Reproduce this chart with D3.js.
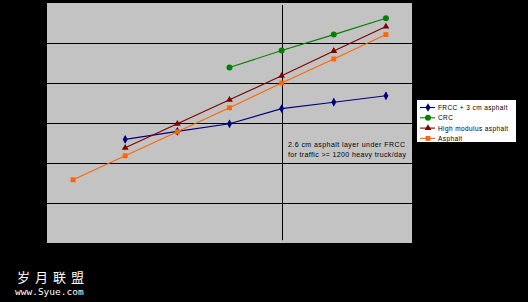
<!DOCTYPE html>
<html><head><meta charset="utf-8">
<script src="https://cdn.jsdelivr.net/npm/d3@7"></script>
<style>
html,body{margin:0;padding:0;background:#000;}
svg{display:block;}
</style></head>
<body>
<script>
const categories = ["1","2","3","4","5","6","7"];
const seriesNames = ["FRCC + 3 cm asphalt","CRC","High modulus asphalt","Asphalt"];
const frcc = [null, 2.59, 2.79, 2.98, 3.36, 3.52, 3.68];
const crc = [null, null, null, 4.39, 4.81, 5.21, 5.62];
const highMod = [null, 2.38, 2.98, 3.58, 4.18, 4.80, 5.41];
const asphalt = [1.58, 2.18, 2.78, 3.38, 4.00, 4.60, 5.21];
const yTicks = [0,1,2,3,4,5,6];
const noteLines = ["2.6 cm  asphalt layer under FRCC","for traffic >= 1200 heavy truck/day"];
const colors = ["#000080","#008000","#800000","#ff6600"];
const shapes = ["diamond","circle","triangle","square"];

const W=528,H=302;
const svg=d3.select("body").append("svg").attr("width",W).attr("height",H);
svg.append("rect").attr("width",W).attr("height",H).attr("fill","#000");

const L=47,R=412,T=3,B=243;
const x=d3.scaleBand().domain(categories).range([L,R]);
const y=d3.scaleLinear().domain([0,6]).range([B,T]);
const cx=c=>x(c)+x.bandwidth()/2;

svg.append("rect").attr("x",L).attr("y",T).attr("width",R-L).attr("height",B-T).attr("fill","#c3c3c3");

// gridlines
svg.append("g").selectAll("line").data(yTicks.slice(1,6)).join("line")
  .attr("x1",L).attr("x2",R).attr("y1",d=>Math.round(y(d))+0.5).attr("y2",d=>Math.round(y(d))+0.5)
  .attr("stroke","#000").attr("stroke-width",1);

// vertical reference line at category 5
svg.append("line").attr("x1",Math.round(cx("5"))+0.5).attr("x2",Math.round(cx("5"))+0.5)
  .attr("y1",y(5.95)).attr("y2",y(0.07)).attr("stroke","#000").attr("stroke-width",1);

const all=[frcc,crc,highMod,asphalt];
const sym={diamond:d3.symbolDiamond,circle:d3.symbolCircle,triangle:d3.symbolTriangle,square:d3.symbolSquare};
const sizes={diamond:22,circle:28,triangle:20,square:24};

all.forEach((vals,i)=>{
  const pts=categories.map((c,j)=>({c,v:vals[j]})).filter(p=>p.v!=null);
  const line=d3.line().x(p=>cx(p.c)).y(p=>y(p.v));
  svg.append("path").datum(pts).attr("d",line).attr("fill","none").attr("stroke",colors[i]).attr("stroke-width",1.1);
  const g=svg.append("g");
  g.selectAll("path").data(pts).join("path")
    .attr("transform",p=>`translate(${cx(p.c)},${y(p.v)})`)
    .attr("d",d3.symbol().type(sym[shapes[i]]).size(sizes[shapes[i]]))
    .attr("fill",colors[i]);
  if(shapes[i]==="diamond"){
    g.selectAll("line").data(pts).join("line")
     .attr("x1",p=>cx(p.c)).attr("x2",p=>cx(p.c)).attr("y1",p=>y(p.v)-3.5).attr("y2",p=>y(p.v)+3.5)
     .attr("stroke",colors[i]).attr("stroke-width",1);
  }
});

// annotation
const note=svg.append("g").attr("font-family","Liberation Sans, Arial, sans-serif").attr("font-size",7).attr("fill","#000");
noteLines.forEach((t,k)=>{
  note.append("text").attr("x",288).attr("y",146.5+k*10).attr("textLength",k===0?117:118).attr("lengthAdjust","spacing").text(t);
});

// legend
const lg=svg.append("g");
lg.append("rect").attr("x",416.5).attr("y",99.5).attr("width",100).attr("height",43).attr("fill","#fff").attr("stroke","#000");
seriesNames.forEach((n,i)=>{
  const yy=107.5+i*10.3;
  lg.append("line").attr("x1",420).attr("x2",435).attr("y1",yy).attr("y2",yy).attr("stroke",colors[i]).attr("stroke-width",1.1);
  lg.append("path").attr("transform",`translate(428,${yy})`).attr("d",d3.symbol().type(sym[shapes[i]]).size(sizes[shapes[i]])).attr("fill",colors[i]);
  lg.append("text").attr("x",438).attr("y",yy+2.5).attr("font-family","Liberation Sans, Arial, sans-serif").attr("font-size",6.5).attr("letter-spacing",0.4).attr("fill","#000").text(n);
});

// watermark
svg.append("text").attr("x",17).attr("y",282).attr("fill","#fff").attr("font-family","Noto Sans CJK SC, sans-serif").attr("font-size",13).attr("letter-spacing",5).text("岁月联盟");
svg.append("text").attr("x",15).attr("y",295).attr("fill","#fff").attr("font-family","DejaVu Sans Mono, monospace").attr("font-size",9.5).text("www.Syue.com");
</script>
</body></html>
